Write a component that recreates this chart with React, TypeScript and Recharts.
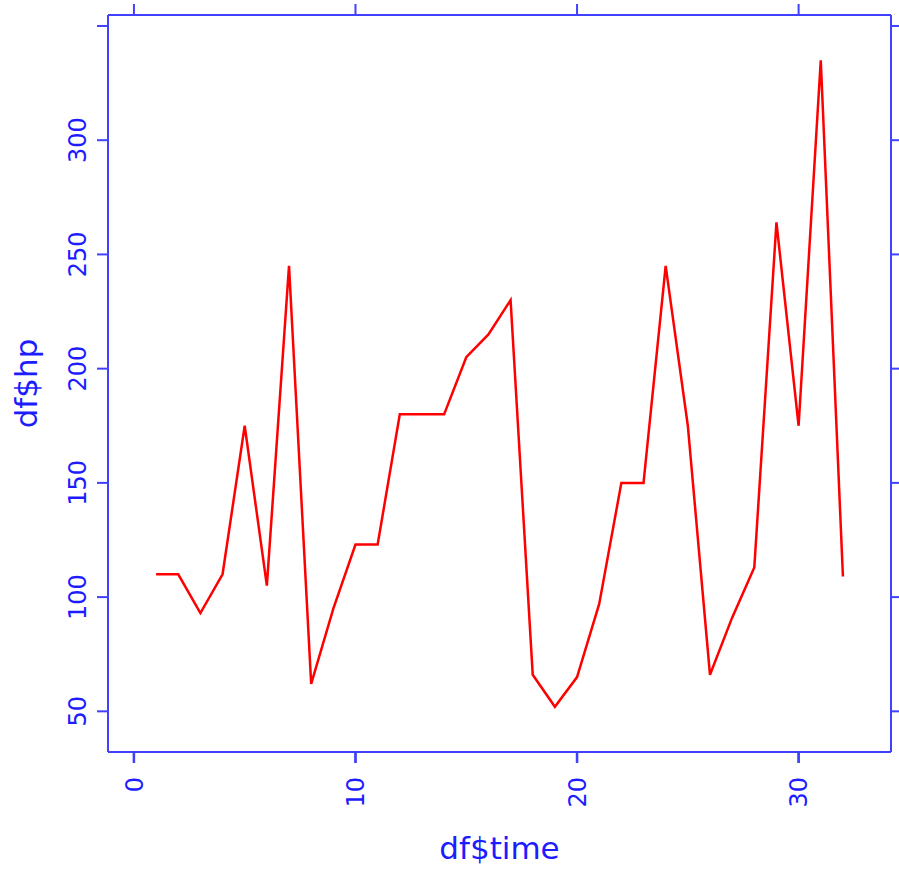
import { LineChart, Line, XAxis, YAxis, Label } from "recharts";

const time = [
    1, 2, 3, 4, 5, 6, 7, 8, 9, 10, 11, 12, 13, 14, 15, 16, 17, 18, 19, 20, 21,
    22, 23, 24, 25, 26, 27, 28, 29, 30, 31, 32,
];
const hp = [
    110, 110, 93, 110, 175, 105, 245, 62, 95, 123, 123, 180, 180, 180, 205,
    215, 230, 66, 52, 65, 97, 150, 150, 245, 175, 66, 91, 113, 264, 175, 335,
    109,
];
const xTicks = [0, 10, 20, 30];
const yTicks = [50, 100, 150, 200, 250, 300, 350];

const data = time.map((t, i) => ({ time: t, hp: hp[i] }));

const AXIS = "#4040ff";
const TEXT = "#1c1cff";
const FONT = "DejaVu Sans";
const tickLine = { stroke: AXIS, strokeWidth: 2 };

// bottom tick label, plus its tick mark drawn as a thin rect
function XTick(props: any) {
    const { x, y, payload } = props;
    return (
        <g>
            <rect x={x - 1.25} y={y - 25} width={2.5} height={11} fill={AXIS} />
            <text
                transform={`translate(${x},${y}) rotate(-90)`}
                textAnchor="end"
                dy="0.36em"
                fill={TEXT}
                fontSize={24}
                fontFamily={FONT}
            >
                {payload.value}
            </text>
        </g>
    );
}

function YTick(props: any) {
    const { x, y, payload } = props;
    if (payload.value > 320) return null;
    return (
        <text
            transform={`translate(${x},${y}) rotate(-90)`}
            textAnchor="middle"
            fill={TEXT}
            fontSize={24}
            fontFamily={FONT}
        >
            {payload.value}
        </text>
    );
}

export default function App() {
    return (
        <div style={{ position: "absolute", left: 0, top: 0, background: "#fff" }}>
            <LineChart
                width={899}
                height={871}
                data={data}
                margin={{ top: 14, right: 7, bottom: 0, left: 0 }}
            >
                <XAxis
                    xAxisId="bottom"
                    dataKey="time"
                    type="number"
                    domain={[-1.17, 34.17]}
                    allowDataOverflow
                    ticks={xTicks}
                    height={119}
                    stroke={AXIS}
                    strokeWidth={2}
                    tickLine={tickLine}
                    tickSize={11}
                    tickMargin={14}
                    tick={<XTick />}
                >
                    <Label
                        value="df$time"
                        position="insideBottom"
                        offset={12}
                        fill={TEXT}
                        fontSize={31}
                        fontFamily={FONT}
                    />
                </XAxis>
                <XAxis
                    xAxisId="top"
                    orientation="top"
                    dataKey="time"
                    type="number"
                    domain={[-1.17, 34.17]}
                    allowDataOverflow
                    ticks={xTicks}
                    height={1}
                    stroke={AXIS}
                    strokeWidth={2}
                    tickLine={tickLine}
                    tickSize={11}
                    tick={() => <g />}
                />
                <YAxis
                    yAxisId="left"
                    type="number"
                    domain={[32.2, 354.8]}
                    allowDataOverflow
                    ticks={yTicks}
                    width={108}
                    stroke={AXIS}
                    strokeWidth={2}
                    tickLine={tickLine}
                    tickSize={11}
                    tickMargin={11}
                    tick={<YTick />}
                >
                    <Label
                        content={(p: any) => {
                            const vb = p.viewBox;
                            const cy = vb.y + vb.height / 2;
                            return (
                                <text
                                    transform={`translate(37,${cy}) rotate(-90)`}
                                    textAnchor="middle"
                                    fill={TEXT}
                                    fontSize={31}
                                    fontFamily={FONT}
                                >
                                    df$hp
                                </text>
                            );
                        }}
                    />
                </YAxis>
                <YAxis
                    yAxisId="right"
                    orientation="right"
                    type="number"
                    domain={[32.2, 354.8]}
                    allowDataOverflow
                    ticks={yTicks}
                    width={1}
                    stroke={AXIS}
                    strokeWidth={2}
                    tickLine={tickLine}
                    tickSize={11}
                    tick={() => <g />}
                />
                <Line
                    xAxisId="bottom"
                    yAxisId="left"
                    type="linear"
                    dataKey="hp"
                    stroke="#ff0000"
                    strokeWidth={2.5}
                    dot={false}
                    isAnimationActive={false}
                />
            </LineChart>
        </div>
    );
}
